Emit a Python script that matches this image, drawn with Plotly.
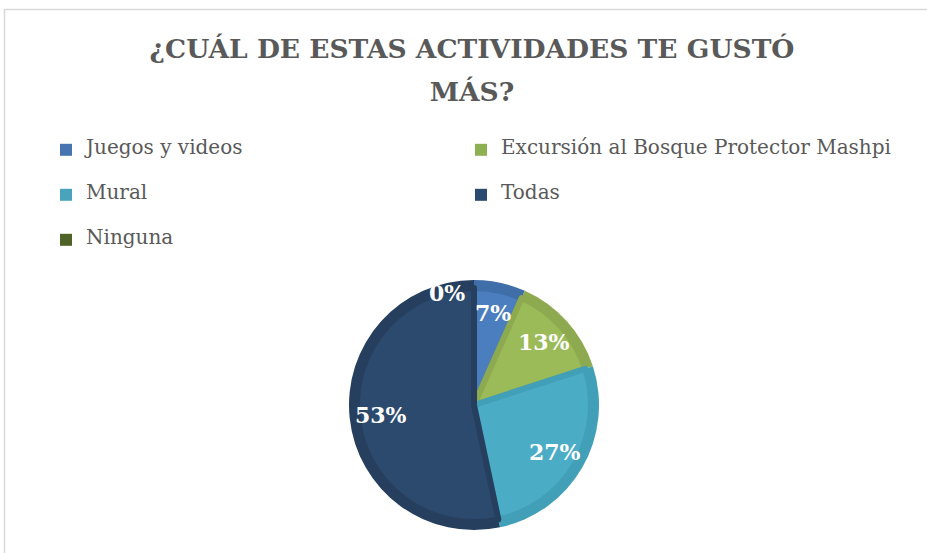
import math
import plotly.graph_objects as go

# ---- data ----
categories = ["Juegos y videos", "Excursión al Bosque Protector Mashpi",
              "Mural", "Todas", "Ninguna"]
counts = [1, 2, 4, 8, 0]
title_lines = ["¿CUÁL DE ESTAS ACTIVIDADES TE GUSTÓ", "MÁS?"]

# ---- style ----
W, H = 927, 553
light = ["#4A7EBE", "#9BBB59", "#4BACC6", "#2C4A6E", "#4F6228"]
dark = ["#3F6EA8", "#8EAA50", "#419FB7", "#273F5F", "#445524"]
legend_cols = ["#4675B0", "#8DB051", "#49A3BD", "#2B4A70", "#4F6228"]
CX, CY, R = 474, 405, 125
R_IN = 117
SERIF = "DejaVu Serif"
GRAY = "#595959"


def dom(r):
    return dict(x=[(CX - r) / W, (CX + r) / W], y=[1 - (CY + r) / H, 1 - (CY - r) / H])


leg_labels = [" <br><span style='font-size:20px'>%s</span><br> " % c for c in categories]

fig = go.Figure()
# legend carrier (tiny, hidden under the main pie)
fig.add_trace(go.Pie(
    labels=leg_labels, values=counts, sort=False, direction="clockwise",
    marker=dict(colors=legend_cols, line=dict(width=0)), textinfo="none", hoverinfo="skip",
    showlegend=True, domain=dom(1),
))
fig.add_trace(go.Pie(
    labels=leg_labels, values=counts, sort=False, direction="clockwise", rotation=0,
    marker=dict(colors=dark, line=dict(width=0)), textinfo="none", hoverinfo="skip",
    showlegend=False, domain=dom(R),
))
fig.add_trace(go.Pie(
    labels=leg_labels, values=counts, sort=False, direction="clockwise", rotation=0,
    marker=dict(colors=light, line=dict(width=[6 if v > 0 else 0 for v in counts], color=dark)),
    textinfo="none", showlegend=False, domain=dom(R_IN),
))

# percentage labels computed from the data
total = sum(counts)
annotations = []
cum = 0
for c, v in zip(categories, counts):
    pct = round(v / total * 100)
    if v > 0:
        mid = (cum + v / 2) / total * 2 * math.pi
        r = 0.75 * R
        x = CX + r * math.sin(mid)
        y = CY - r * math.cos(mid)
        annotations.append(dict(x=x / W, y=1 - y / H, xref="paper", yref="paper",
                                xanchor="center", yanchor="middle",
                                text="<b>%d%%</b>" % pct, showarrow=False,
                                font=dict(family=SERIF, size=22, color="white")))
    else:
        ang = cum / total * 2 * math.pi
        r = 0.9 * R
        x = CX + r * math.sin(ang)
        y = CY - r * math.cos(ang)
        annotations.append(dict(x=x / W, y=1 - y / H, xref="paper", yref="paper",
                                xanchor="right", yanchor="middle", xshift=-7,
                                text="<b>%d%%</b>" % pct, showarrow=False,
                                font=dict(family=SERIF, size=22, color="white")))
    cum += v

fig.update_layout(
    width=W, height=H,
    margin=dict(l=0, r=0, t=0, b=0),
    paper_bgcolor="white", plot_bgcolor="white",
    title=dict(
        text="<br>".join("<span style='font-size:26.5px'><b>%s</b></span>" % t for t in title_lines),
        x=472 / W, xanchor="center", y=1 - 58 / H, yanchor="top",
        font=dict(family=SERIF, size=33, color=GRAY),
    ),
    legend=dict(
        orientation="h", x=46 / W, xanchor="left", y=1 - 121 / H, yanchor="top",
        font=dict(family=SERIF, size=10.77, color=GRAY),
        entrywidth=370, entrywidthmode="pixels", traceorder="normal",
        bgcolor="rgba(0,0,0,0)",
        title=dict(text="<span style='font-size:20px'>" + "&nbsp;" * 135 + "</span>",
                   side="top", font=dict(size=1, family=SERIF)),
    ),
    annotations=annotations,
    shapes=[dict(type="rect", xref="paper", yref="paper",
                 x0=4.5 / W, x1=1.02, y0=-0.02, y1=1 - 9.5 / H,
                 line=dict(color="#D9D9D9", width=1.5), fillcolor="rgba(0,0,0,0)", layer="below")],
)

fig.write_html("out.html", config={"displayModeBar": False},
               post_script="document.body.style.margin='0';")
